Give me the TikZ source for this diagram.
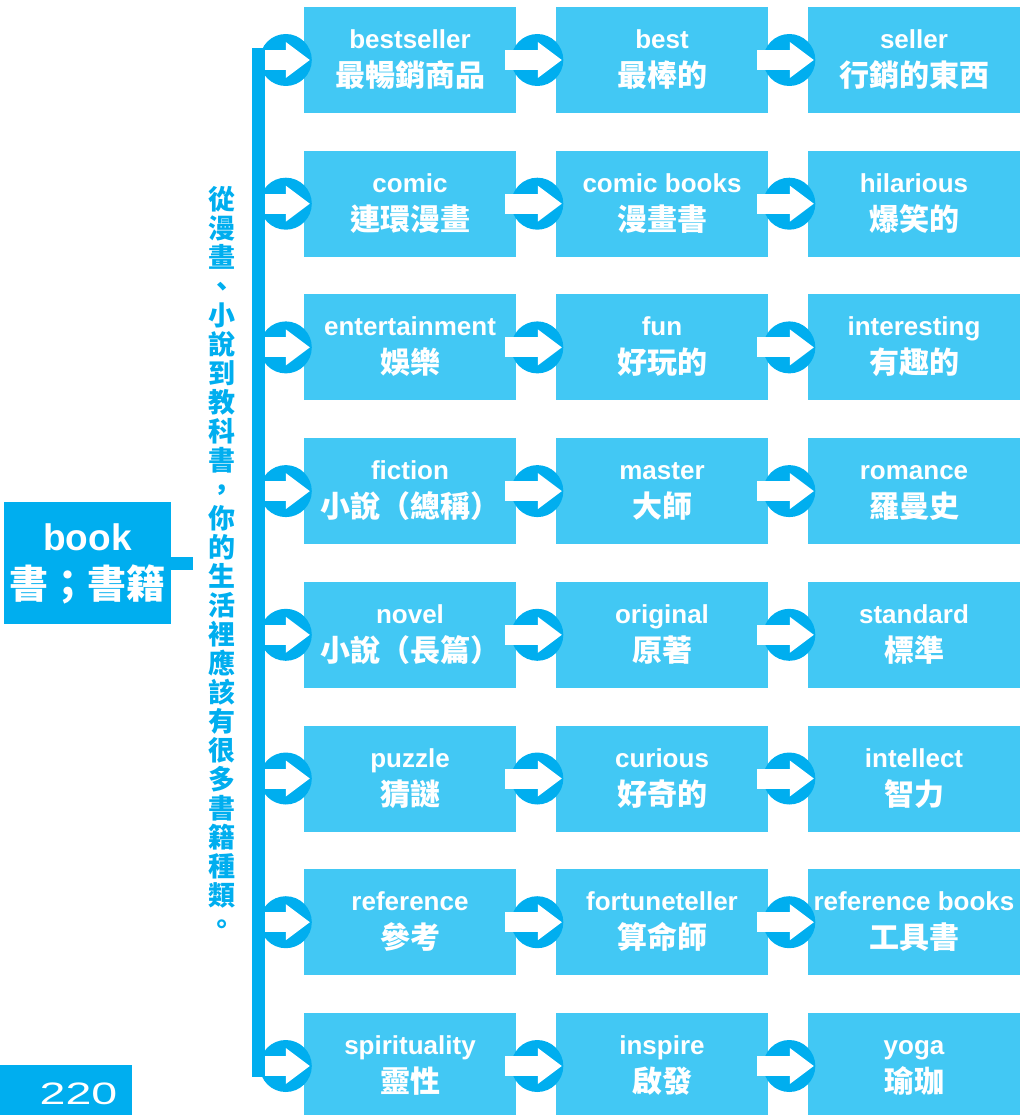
\documentclass[tikz,border=0pt]{standalone}
\usepackage{fontspec}
\usepackage{graphicx}
\usetikzlibrary{calc,arrows.meta}
\newfontfamily\en{Liberation Sans}
\newfontfamily\zh{Noto Sans CJK TC}
\definecolor{boxblue}{RGB}{66,200,244}
\definecolor{darkblue}{RGB}{0,174,239}
\newcommand{\word}[2]{{\en #1}\\{\zh\fontsize{30}{38}\selectfont #2}}

\begin{document}
\begin{tikzpicture}[x=1pt, y=-1pt, every node/.style={inner sep=0pt, text=white},
  box/.style={fill=boxblue, minimum width=212pt, minimum height=106pt, align=center,
    text height=57pt, text depth=4pt, font=\bfseries\fontsize{26}{38}\selectfont},
  bluedisc/.style={circle, fill=darkblue, minimum size=52pt},
  warrow/.style={white, line width=20pt, -{Triangle[length=24pt, width=36pt, line width=0pt]}}]
  \useasboundingbox (0,0) rectangle (1020,1115);

  % head word and page number
  \node[fill=darkblue, minimum width=167pt, minimum height=122pt, align=center,
    text height=75pt, text depth=5pt, font=\bfseries\fontsize{37}{48}\selectfont]
    (book) at (87.5,563) {{\en book}\\{\zh\fontsize{39}{48}\selectfont 書；書籍}};
  \fill[darkblue] (0,1065) rectangle (132,1115);
  \node[font=\en\fontsize{31}{31}\selectfont] (page) at (78.5,1094) {\scalebox{1.5}[1]{220}};

  % spine and side text
  \coordinate (stub) at (193,563);
  \coordinate (top) at (258.5,48);
  \coordinate (bot) at (258.5,1077);
  \draw[darkblue, line width=13pt] (book.east) -- (stub);
  \draw[darkblue, line width=13pt] (top) -- (bot);
  \node[align=center, text=darkblue, font=\zh\bfseries\fontsize{27}{29}\selectfont] (side) at (222,560)
    {從\\漫\\畫\\、\\小\\說\\到\\教\\科\\書\\，\\你\\的\\生\\活\\裡\\應\\該\\有\\很\\多\\書\\籍\\種\\類\\。};

  % word boxes
  \node[box] (b11) at (410,60) {\word{bestseller}{最暢銷商品}};
  \node[box] (b12) at (662,60) {\word{best}{最棒的}};
  \node[box] (b13) at (914,60) {\word{seller}{行銷的東西}};
  \node[box] (b21) at (410,203.7) {\word{comic}{連環漫畫}};
  \node[box] (b22) at (662,203.7) {\word{comic books}{漫畫書}};
  \node[box] (b23) at (914,203.7) {\word{hilarious}{爆笑的}};
  \node[box] (b31) at (410,347.4) {\word{entertainment}{娛樂}};
  \node[box] (b32) at (662,347.4) {\word{fun}{好玩的}};
  \node[box] (b33) at (914,347.4) {\word{interesting}{有趣的}};
  \node[box] (b41) at (410,491.1) {\word{fiction}{小說（總稱）}};
  \node[box] (b42) at (662,491.1) {\word{master}{大師}};
  \node[box] (b43) at (914,491.1) {\word{romance}{羅曼史}};
  \node[box] (b51) at (410,634.8) {\word{novel}{小說（長篇）}};
  \node[box] (b52) at (662,634.8) {\word{original}{原著}};
  \node[box] (b53) at (914,634.8) {\word{standard}{標準}};
  \node[box] (b61) at (410,778.5) {\word{puzzle}{猜謎}};
  \node[box] (b62) at (662,778.5) {\word{curious}{好奇的}};
  \node[box] (b63) at (914,778.5) {\word{intellect}{智力}};
  \node[box] (b71) at (410,922.2) {\word{reference}{參考}};
  \node[box] (b72) at (662,922.2) {\word{fortuneteller}{算命師}};
  \node[box] (b73) at (914,922.2) {\word{reference books}{工具書}};
  \node[box] (b81) at (410,1066) {\word{spirituality}{靈性}};
  \node[box] (b82) at (662,1066) {\word{inspire}{啟發}};
  \node[box] (b83) at (914,1066) {\word{yoga}{瑜珈}};

  % arrow discs
  \foreach \r in {1,...,8} {
    \node[bluedisc] (c\r1) at ($(b\r1.west)+(-18,0)$) {};
    \node[bluedisc] (c\r2) at ($(b\r2.west)+(-18.5,0)$) {};
    \node[bluedisc] (c\r3) at ($(b\r3.west)+(-18.5,0)$) {};
    \draw[warrow] ($(b\r1.west -| top)+(6.5,0)$) -- ($(b\r1.west)+(6,0)$);
    \draw[warrow] ($(b\r1.east)+(-11,0)$) -- ($(b\r2.west)+(6,0)$);
    \draw[warrow] ($(b\r2.east)+(-11,0)$) -- ($(b\r3.west)+(6,0)$);
  }
\end{tikzpicture}
\end{document}
